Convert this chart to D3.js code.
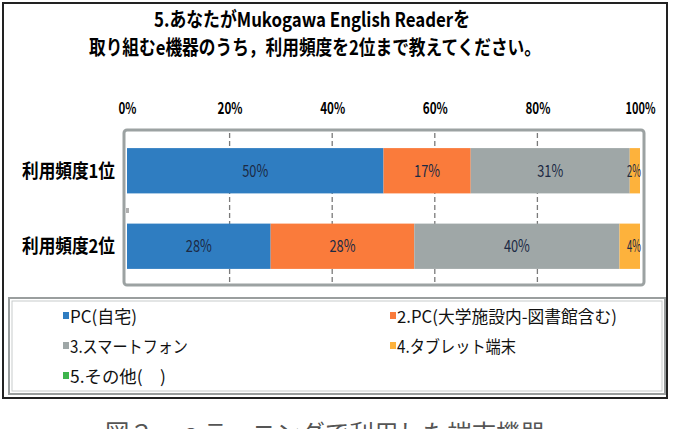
<!DOCTYPE html>
<html>
<head>
<meta charset="UTF-8">
<title></title>
<script src="https://cdn.jsdelivr.net/npm/d3@7/dist/d3.min.js"></script>
<style>
  body{margin:0;background:#fff;}
  text{font-family:"Noto Sans CJK JP","Noto Sans",sans-serif;}
</style>
</head>
<body>
<div id="tu1"></div>
<script>
var categories=['利用頻度1位','利用頻度2位'];
var seriesNames=['PC(自宅)','2.PC(大学施設内-図書館含む)','3.スマートフォン','4.タブレット端末','5.その他(\u3000)'];
var seriesColors=['#2f7dc1','#fa7b3b','#9fa7a7','#fdb23c','#3db54d'];
var rank1=[50,17,31,2,0];
var rank2=[28,28,40,4,0];
var xticks=[0,20,40,60,80,100];
var titleLines=['5.あなたがMukogawa English Readerを','取り組むe機器のうち，利用頻度を2位まで教えてください。'];
var caption='図２　ｅラ－ニングで利用した端末機器';

var W=674,H=429;
var svg=d3.select('#tu1').append('svg').attr('width',W).attr('height',H);

//外枠
svg.append('rect').attr('x',3).attr('y',3).attr('width',664).attr('height',395)
   .attr('fill','#fff').attr('stroke','#222').attr('stroke-width',2);

//タイトル
svg.append('text').attr('x',312).attr('y',27).attr('text-anchor','middle')
   .attr('font-size',20).attr('font-weight','bold')
   .attr('textLength',316).attr('lengthAdjust','spacingAndGlyphs').text(titleLines[0]);
svg.append('text').attr('x',315).attr('y',55).attr('text-anchor','middle')
   .attr('font-size',20).attr('font-weight','bold')
   .attr('textLength',452).attr('lengthAdjust','spacingAndGlyphs').text(titleLines[1]);

//主区域
var plot={left:127,right:640,top:133,bottom:284};
var x=d3.scaleLinear().domain([0,100]).range([plot.left,plot.right]);
var y=d3.scaleBand().domain(categories).range([plot.top,plot.bottom]).paddingInner(0.4).paddingOuter(0.2);

//枠
svg.append('rect').attr('x',124).attr('y',130).attr('width',520).attr('height',155)
   .attr('rx',3).attr('fill','#fff').attr('stroke','#9ca2a2').attr('stroke-width',3);

//グリッド
svg.append('g').selectAll('line').data(xticks.slice(1,-1)).enter().append('line')
   .attr('x1',function(d){return x(d)}).attr('x2',function(d){return x(d)})
   .attr('y1',plot.top).attr('y2',plot.bottom)
   .attr('stroke','#7a7a7a').attr('stroke-width',1.3).attr('stroke-dasharray','5,3');
svg.append('rect').attr('x',126).attr('y',208).attr('width',3).attr('height',5).attr('fill','#b0b0b0');

//X軸
var gx=svg.append('g').attr('transform','translate(0,117)');
gx.call(d3.axisTop(x).tickValues(xticks).tickSize(0).tickFormat(function(d){return d+'%'}));
gx.select('.domain').remove();
gx.selectAll('text').attr('font-size',16).attr('font-weight','bold').attr('fill','#000')
   .attr('textLength',function(d){return d===100?30:(d===0?18:25)}).attr('lengthAdjust','spacingAndGlyphs');

//カテゴリ
svg.append('g').selectAll('text').data(categories).enter().append('text')
   .attr('x',22).attr('y',function(d){return y(d)+y.bandwidth()/2+7})
   .attr('font-size',19).attr('font-weight','bold').attr('fill','#000')
   .attr('textLength',93).attr('lengthAdjust','spacingAndGlyphs')
   .text(function(d){return d});

//積み上げ棒
var rows=[rank1,rank2];
rows.forEach(function(vals,ri){
  var cat=categories[ri],acc=0;
  var segs=vals.map(function(v,i){var s={i:i,x0:acc,x1:acc+v,v:v};acc+=v;return s;});
  var g=svg.append('g');
  g.selectAll('rect').data(segs).enter().append('rect')
   .attr('x',function(d){return x(d.x0)}).attr('width',function(d){return x(d.x1)-x(d.x0)})
   .attr('y',y(cat)).attr('height',y.bandwidth())
   .attr('fill',function(d){return seriesColors[d.i]});
  g.selectAll('text').data(segs.filter(function(d){return d.v>0})).enter().append('text')
   .attr('x',function(d){return d.v<5?x(d.x1)-6:(x(d.x0)+x(d.x1))/2})
   .attr('y',y(cat)+y.bandwidth()/2+6)
   .attr('text-anchor','middle').attr('font-size',17).attr('fill','#1c2a44')
   .attr('textLength',function(d){return d.v<10?14:26}).attr('lengthAdjust','spacingAndGlyphs')
   .text(function(d){return d.v+'%'});
});

//凡例
svg.append('rect').attr('x',9).attr('y',298).attr('width',656).attr('height',96)
   .attr('fill','#fff').attr('stroke','#9a9e9e').attr('stroke-width',2);
svg.append('rect').attr('x',12).attr('y',301).attr('width',650).attr('height',90)
   .attr('fill','none').attr('stroke','#c8cccc').attr('stroke-width',1);
var legPos=[[63,317],[390,317],[63,347],[390,347],[63,377]];
var legLen=[67,220,118,119,96];
var lg=svg.append('g').selectAll('g').data(seriesNames).enter().append('g')
   .attr('transform',function(d,i){return 'translate('+legPos[i][0]+','+legPos[i][1]+')'});
lg.append('rect').attr('x',0).attr('y',-5).attr('width',6).attr('height',7)
   .attr('fill',function(d,i){return seriesColors[i]});
lg.append('text').attr('x',7).attr('y',6).attr('font-size',17).attr('fill','#111')
   .attr('textLength',function(d,i){return legLen[i]}).attr('lengthAdjust','spacingAndGlyphs')
   .text(function(d){return d});

//キャプション（元図でも下端で切れている）
svg.append('text').attr('x',325).attr('y',441).attr('text-anchor','middle')
   .attr('font-size',23).attr('fill','#555')
   .attr('textLength',440).attr('lengthAdjust','spacingAndGlyphs').text(caption);
</script>
</body>
</html>
